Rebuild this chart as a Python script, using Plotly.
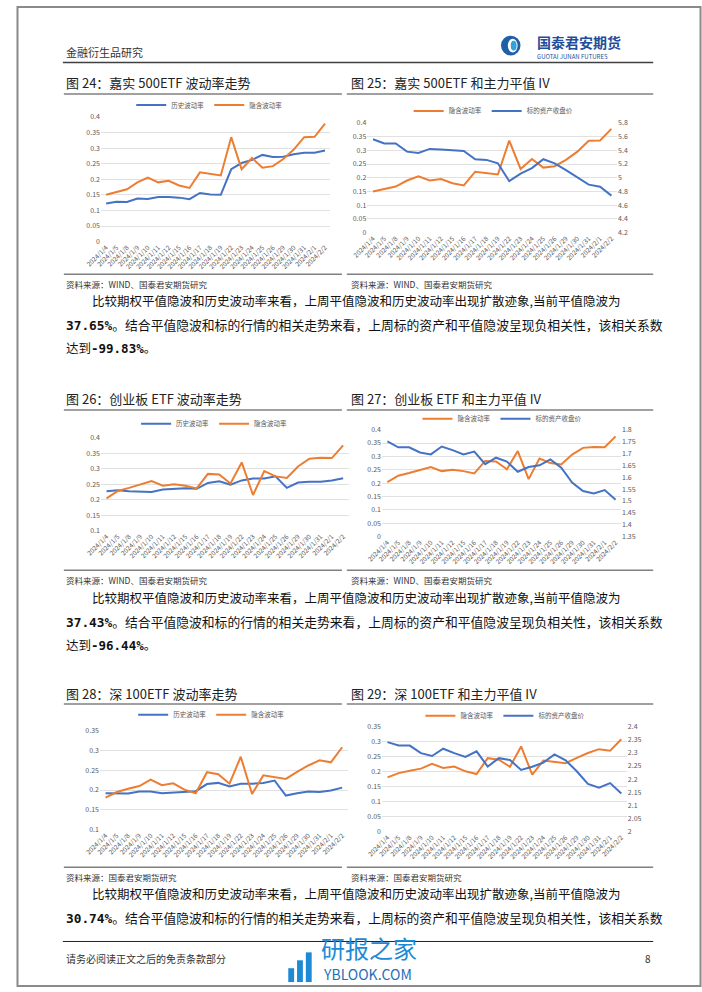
import plotly.graph_objects as go

W, H = 702, 992
def px(x): return x / W
def py(y): return 1 - y / H

dates = ["2024/1/4","2024/1/5","2024/1/8","2024/1/9","2024/1/10","2024/1/11","2024/1/12",
         "2024/1/15","2024/1/16","2024/1/17","2024/1/18","2024/1/19","2024/1/22","2024/1/23",
         "2024/1/24","2024/1/25","2024/1/26","2024/1/29","2024/1/30","2024/1/31","2024/2/1","2024/2/2"]

hv_500 = [0.122,0.128,0.127,0.138,0.137,0.143,0.143,0.141,0.136,0.156,0.151,0.150,0.232,0.252,0.262,0.278,0.271,0.272,0.280,0.285,0.285,0.292]
iv_500 = [0.150,0.160,0.168,0.190,0.205,0.190,0.195,0.180,0.172,0.222,0.218,0.212,0.335,0.232,0.268,0.237,0.242,0.265,0.295,0.335,0.336,0.378]
px_500 = [5.56,5.50,5.50,5.38,5.36,5.42,5.41,5.40,5.39,5.27,5.26,5.21,4.95,5.06,5.14,5.27,5.21,5.11,5.00,4.90,4.87,4.74]

hv_cyb = [0.227,0.230,0.227,0.225,0.225,0.233,0.235,0.237,0.235,0.254,0.259,0.248,0.262,0.268,0.268,0.275,0.238,0.255,0.258,0.258,0.262,0.269]
iv_cyb = [0.204,0.228,0.238,0.250,0.260,0.245,0.250,0.245,0.236,0.283,0.281,0.252,0.320,0.215,0.292,0.275,0.270,0.307,0.332,0.335,0.334,0.375]
px_cyb = [1.751,1.726,1.726,1.704,1.696,1.729,1.714,1.696,1.708,1.655,1.682,1.666,1.623,1.643,1.650,1.675,1.640,1.577,1.542,1.532,1.546,1.505]

hv_sz = [0.192,0.191,0.191,0.196,0.196,0.192,0.194,0.196,0.197,0.215,0.218,0.209,0.216,0.216,0.218,0.224,0.186,0.192,0.196,0.195,0.199,0.206]
iv_sz = [0.181,0.195,0.203,0.210,0.226,0.212,0.217,0.201,0.192,0.245,0.240,0.216,0.284,0.190,0.237,0.232,0.228,0.246,0.262,0.275,0.270,0.308]
px_sz = [2.341,2.328,2.328,2.299,2.288,2.316,2.299,2.285,2.306,2.248,2.280,2.273,2.235,2.247,2.263,2.294,2.272,2.230,2.182,2.167,2.185,2.145]

HV_NAME = "历史波动率"
IV_NAME = "隐含波动率"
PX_NAME = "标的资产收盘价"

BLUE = "#4472C4"
ORANGE = "#ED7D31"
FONT = "Noto Sans CJK SC"
TICKC = "#595959"
GRID = "#D9D9D9"

fig = go.Figure()

charts = [
    dict(xd=(86, 321), yd=(112, 238), yr=(0, 0.4), dt=0.05, rr=None, lx=197, ly=100,
         series=[(HV_NAME, hv_500, BLUE, False), (IV_NAME, iv_500, ORANGE, False)]),
    dict(xd=(359, 615), yd=(118, 229), yr=(0, 0.4), dt=0.05, rr=(4.2, 5.8), rdt=0.2, lx=488, ly=106,
         series=[(IV_NAME, iv_500, ORANGE, False), (PX_NAME, px_500, BLUE, True)]),
    dict(xd=(86, 340), yd=(436, 530), yr=(0.1, 0.4), dt=0.05, rr=None, lx=202, ly=422,
         series=[(HV_NAME, hv_cyb, BLUE, False), (IV_NAME, iv_cyb, ORANGE, False)]),
    dict(xd=(374, 619), yd=(428, 536), yr=(0, 0.4), dt=0.05, rr=(1.35, 1.8), rdt=0.05, lx=497, ly=417,
         series=[(IV_NAME, iv_cyb, ORANGE, False), (PX_NAME, px_cyb, BLUE, True)]),
    dict(xd=(85, 339), yd=(732, 832), yr=(0.1, 0.35), dt=0.05, rr=None, lx=199, ly=716,
         series=[(HV_NAME, hv_sz, BLUE, False), (IV_NAME, iv_sz, ORANGE, False)]),
    dict(xd=(374, 625), yd=(728, 834), yr=(0, 0.35), dt=0.05, rr=(2.0, 2.4), rdt=0.05, lx=500, ly=717,
         series=[(IV_NAME, iv_sz, ORANGE, False), (PX_NAME, px_sz, BLUE, True)]),
]

layout = {}
right_idx = 7
for i, c in enumerate(charts, start=1):
    xn = "xaxis" if i == 1 else f"xaxis{i}"
    yn = "yaxis" if i == 1 else f"yaxis{i}"
    xr = "x" if i == 1 else f"x{i}"
    yr_ = "y" if i == 1 else f"y{i}"
    lg = "legend" if i == 1 else f"legend{i}"
    layout[xn] = dict(domain=[px(c["xd"][0]), px(c["xd"][1])], anchor=yr_, type="category",
                      range=[-0.5, len(dates) - 0.5], tickangle=-45, showgrid=False, ticks="",
                      tickfont=dict(size=6.5, color=TICKC, family=FONT), showline=False, zeroline=False)
    layout[yn] = dict(domain=[py(c["yd"][1]), py(c["yd"][0])], anchor=xr, range=list(c["yr"]),
                      dtick=c["dt"], tick0=0, showgrid=True, gridcolor=GRID, gridwidth=0.8,
                      zeroline=False, showline=False, ticks="",
                      tickfont=dict(size=7, color=TICKC, family=FONT))
    ry = None
    if c["rr"] is not None:
        rn = f"yaxis{right_idx}"
        ry = f"y{right_idx}"
        layout[rn] = dict(overlaying=yr_, anchor=xr, side="right", range=list(c["rr"]),
                          dtick=c["rdt"], tick0=c["rr"][0], showgrid=False, zeroline=False,
                          showline=False, ticks="", tickfont=dict(size=7, color=TICKC, family=FONT))
        right_idx += 1
    for name, vals, col, sec in c["series"]:
        fig.add_trace(go.Scatter(x=dates, y=vals, name=name, mode="lines",
                                 line=dict(color=col, width=2), xaxis=xr,
                                 yaxis=(ry if sec else yr_), legend=lg, hoverinfo="skip"))
    layout[lg] = dict(orientation="h", x=px(c["lx"]), y=py(c["ly"]), xanchor="center",
                      yanchor="middle", font=dict(size=6.5, color=TICKC, family=FONT),
                      bgcolor="rgba(0,0,0,0)", itemwidth=30, tracegroupgap=0, itemclick=False)

annotations = []
def txt(x, y, s, size=12, color="#111111", anchor="left", family=FONT):
    annotations.append(dict(x=px(x), y=py(y), xref="paper", yref="paper", text=s, showarrow=False,
                            xanchor=anchor, yanchor="middle",
                            font=dict(size=size, color=color, family=family)))

shapes = []
def hline(x0, x1, y, color="#808080", width=1.5):
    shapes.append(dict(type="line", xref="paper", yref="paper", x0=px(x0), x1=px(x1),
                       y0=py(y), y1=py(y), line=dict(color=color, width=width)))

# page frame
shapes.append(dict(type="rect", xref="paper", yref="paper", x0=px(0.5), x1=px(700.5), y0=py(990), y1=py(1),
                   line=dict(color="#8a8a8a", width=2), fillcolor="rgba(0,0,0,0)"))

# header
txt(48, 46, "金融衍生品研究", size=11, color="#333333")
hline(47, 652, 57, color="#404040", width=1.5)
shapes.append(dict(type="circle", xref="paper", yref="paper", x0=px(496), x1=px(516), y0=py(50), y1=py(30),
                   line=dict(color="#1f5fa8", width=0), fillcolor="#1f5fa8"))
shapes.append(dict(type="circle", xref="paper", yref="paper", x0=px(503), x1=px(513), y0=py(47), y1=py(33),
                   line=dict(color="#ffffff", width=0), fillcolor="#ffffff"))
shapes.append(dict(type="circle", xref="paper", yref="paper", x0=px(506), x1=px(512), y0=py(45), y1=py(35),
                   line=dict(color="#2fa4dc", width=0), fillcolor="#2fa4dc"))
txt(531, 36, "<b>国泰君安期货</b>", size=14, color="#1f4e9c")
txt(531, 51, "GUOTAI JUNAN FUTURES", size=6, color="#1f4e9c")

rows = [
    (77, 89, 271, 281, "图 24：嘉实 500ETF 波动率走势", "图 25：嘉实 500ETF 和主力平值 IV",
     "资料来源：WIND、国泰君安期货研究", "资料来源：WIND、国泰君安期货研究"),
    (397, 408, 570, 580, "图 26：创业板 ETF 波动率走势", "图 27：创业板 ETF 和主力平值 IV",
     "资料来源：WIND、国泰君安期货研究", "资料来源：WIND、国泰君安期货研究"),
    (695, 705, 870, 880, "图 28：深 100ETF 波动率走势", "图 29：深 100ETF 和主力平值 IV",
     "资料来源：国泰君安期货研究", "资料来源：国泰君安期货研究"),
]
for ty, uy, sy, sty, t1, t2, s1, s2 in rows:
    txt(48, ty, t1, size=13, color="#222222")
    txt(340, ty, t2, size=13, color="#222222")
    hline(48, 333, uy)
    hline(338, 652, uy)
    hline(48, 333, sy)
    hline(338, 652, sy)
    txt(48, sty, s1, size=8.5, color="#333333")
    txt(340, sty, s2, size=8.5, color="#333333")

MONO = "DejaVu Sans Mono"
def num(s):
    return f'<span style="font-family:{MONO};font-weight:bold">{s}</span>'

para_l1 = "比较期权平值隐波和历史波动率来看，上周平值隐波和历史波动率出现扩散迹象,当前平值隐波为"
para_l2 = "。结合平值隐波和标的行情的相关走势来看，上周标的资产和平值隐波呈现负相关性，该相关系数"
paras = [
    (298, "37.65%", "-99.83%"),
    (598, "37.43%", "-96.44%"),
    (897, "30.74%", None),
]
for y0, iv, corr in paras:
    txt(75, y0, para_l1, size=12.5)
    txt(48, y0 + 24, num(iv) + para_l2, size=12.8)
    if corr:
        txt(48, y0 + 47, "达到" + num(corr) + "。", size=12.5)

# footer
hline(47, 652, 945, color="#222222", width=1)
txt(48, 962, "请务必阅读正文之后的免责条款部分", size=10, color="#333333")
txt(652, 962, "8", size=10, color="#333333", anchor="right")

# watermark
for bx, bh in [(278, 14), (287, 22), (296, 30)]:
    shapes.append(dict(type="rect", xref="paper", yref="paper", x0=px(bx), x1=px(bx + 6),
                       y0=py(986), y1=py(986 - bh), line=dict(width=0), fillcolor="#1e8ad6"))
txt(310, 951, "研报之家", size=24, color="#1e8ad6")
txt(312, 978, "YBLOOK.COM", size=14, color="#1f6fb8")

fig.update_layout(width=W, height=H, margin=dict(l=0, r=0, t=0, b=0),
                  paper_bgcolor="white", plot_bgcolor="white",
                  annotations=annotations, shapes=shapes, showlegend=True, **layout)

fig.write_html("out.html", config={"displayModeBar": False, "staticPlot": True},
               post_script="document.body.style.margin='0px';document.body.style.overflow='hidden';")
